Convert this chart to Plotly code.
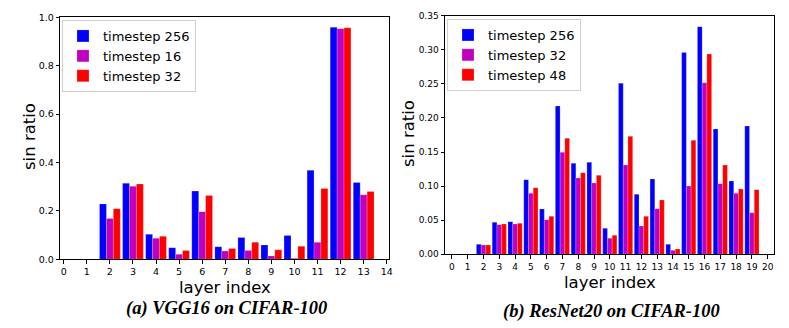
import plotly.graph_objects as go

# data
layers_a = list(range(14))
vgg_256 = [0, 0, 0.229, 0.314, 0.103, 0.048, 0.282, 0.052, 0.090, 0.059, 0.098, 0.368, 0.959, 0.317]
vgg_16 = [0, 0, 0.169, 0.302, 0.087, 0.021, 0.197, 0.034, 0.036, 0.014, 0.004, 0.070, 0.953, 0.267]
vgg_32 = [0, 0, 0.209, 0.311, 0.095, 0.036, 0.264, 0.045, 0.070, 0.039, 0.054, 0.293, 0.957, 0.280]

layers_b = list(range(20))
res_256 = [0, 0, 0.0147, 0.0469, 0.0479, 0.1095, 0.0665, 0.2175, 0.1335, 0.1349, 0.0381,
           0.2508, 0.088, 0.1105, 0.0147, 0.2962, 0.3339, 0.1838, 0.1075, 0.1882]
res_32 = [0, 0, 0.0137, 0.0435, 0.0445, 0.0895, 0.0508, 0.1496, 0.112, 0.1046, 0.0235,
          0.131, 0.0416, 0.067, 0.0059, 0.1002, 0.2517, 0.1036, 0.0895, 0.0611]
res_48 = [0, 0, 0.0137, 0.0445, 0.0455, 0.0978, 0.0557, 0.1701, 0.1198, 0.1159, 0.0279,
          0.173, 0.0557, 0.0797, 0.0078, 0.1672, 0.2938, 0.131, 0.0958, 0.0948]

colors = ["#0000ff", "#bf00bf", "#ff0000"]
font = "DejaVu Sans"

# page has an 8px body margin, so the figure is 8px smaller and positions are shifted
W, H, OFF = 781, 320, 8


def px(x):
    return (x - OFF) / W


def py(y):
    return 1 - (y - OFF) / H


fig = go.Figure()

for name, vals, c in zip(["timestep 256", "timestep 16", "timestep 32"], [vgg_256, vgg_16, vgg_32], colors):
    fig.add_trace(go.Bar(x=layers_a, y=vals, name=name, marker_color=c,
                         marker_line=dict(color="rgba(255,255,255,0.4)", width=0.5),
                         xaxis="x", yaxis="y", legend="legend"))

for name, vals, c in zip(["timestep 256", "timestep 32", "timestep 48"], [res_256, res_32, res_48], colors):
    fig.add_trace(go.Bar(x=layers_b, y=vals, name=name, marker_color=c,
                         marker_line=dict(color="rgba(255,255,255,0.4)", width=0.5),
                         xaxis="x2", yaxis="y2", legend="legend2"))

axis_style = dict(showline=True, mirror=True, linecolor="black", linewidth=1,
                  ticks="outside", ticklen=3.5, tickcolor="black", showgrid=False,
                  zeroline=False, automargin=False)
tick_a = dict(family=font, size=9.5, color="black")
tick_b = dict(family=font, size=9, color="black")

legend_style = dict(xanchor="left", yanchor="top", bgcolor="white",
                    bordercolor="#d0d0d0", borderwidth=1,
                    font=dict(family=font, size=13, color="black"),
                    itemwidth=30, tracegroupgap=0)

fig.update_layout(
    width=W, height=H,
    margin=dict(l=0, r=0, t=0, b=0),
    paper_bgcolor="white", plot_bgcolor="white",
    barmode="group", bargap=0.1, bargroupgap=0,
    xaxis=dict(domain=[px(60.3), px(389)], range=[-0.15, 14.1], dtick=1, anchor="y",
               tickfont=tick_a, **axis_style),
    yaxis=dict(domain=[py(259.3), py(17.3)], range=[0, 1.0], dtick=0.2, tickformat=".1f",
               anchor="x", tickfont=tick_a, **axis_style),
    xaxis2=dict(domain=[px(445), px(774.3)], range=[-0.44, 20.42], dtick=1, anchor="y2",
                tickfont=tick_b, **axis_style),
    yaxis2=dict(domain=[py(254.3), py(15.7)], range=[0, 0.35], dtick=0.05, tickformat=".2f",
                anchor="x2", tickfont=tick_b, **axis_style),
    legend=dict(x=px(62), y=py(20), **legend_style),
    legend2=dict(x=px(447), y=py(19), **legend_style),
)

title_font = dict(family=font, size=16.5, color="black")
cap_font = dict(family="Liberation Serif", size=18.5, color="black")
annotations = [
    dict(text="sin ratio", x=px(29), y=py(137), textangle=-90, font=title_font),
    dict(text="layer index", x=px(225), y=py(287), font=title_font),
    dict(text="sin ratio", x=px(408), y=py(134), textangle=-90, font=title_font),
    dict(text="layer index", x=px(610), y=py(282), font=title_font),
    dict(text="<b><i>(a) VGG16 on CIFAR-100</i></b>", x=px(226), y=py(308), font=cap_font),
    dict(text="<b><i>(b) ResNet20 on CIFAR-100</i></b>", x=px(611), y=py(311), font=cap_font),
]
for a in annotations:
    fig.add_annotation(xref="paper", yref="paper", showarrow=False,
                       xanchor="center", yanchor="middle", **a)

fig.write_html("out.html")
